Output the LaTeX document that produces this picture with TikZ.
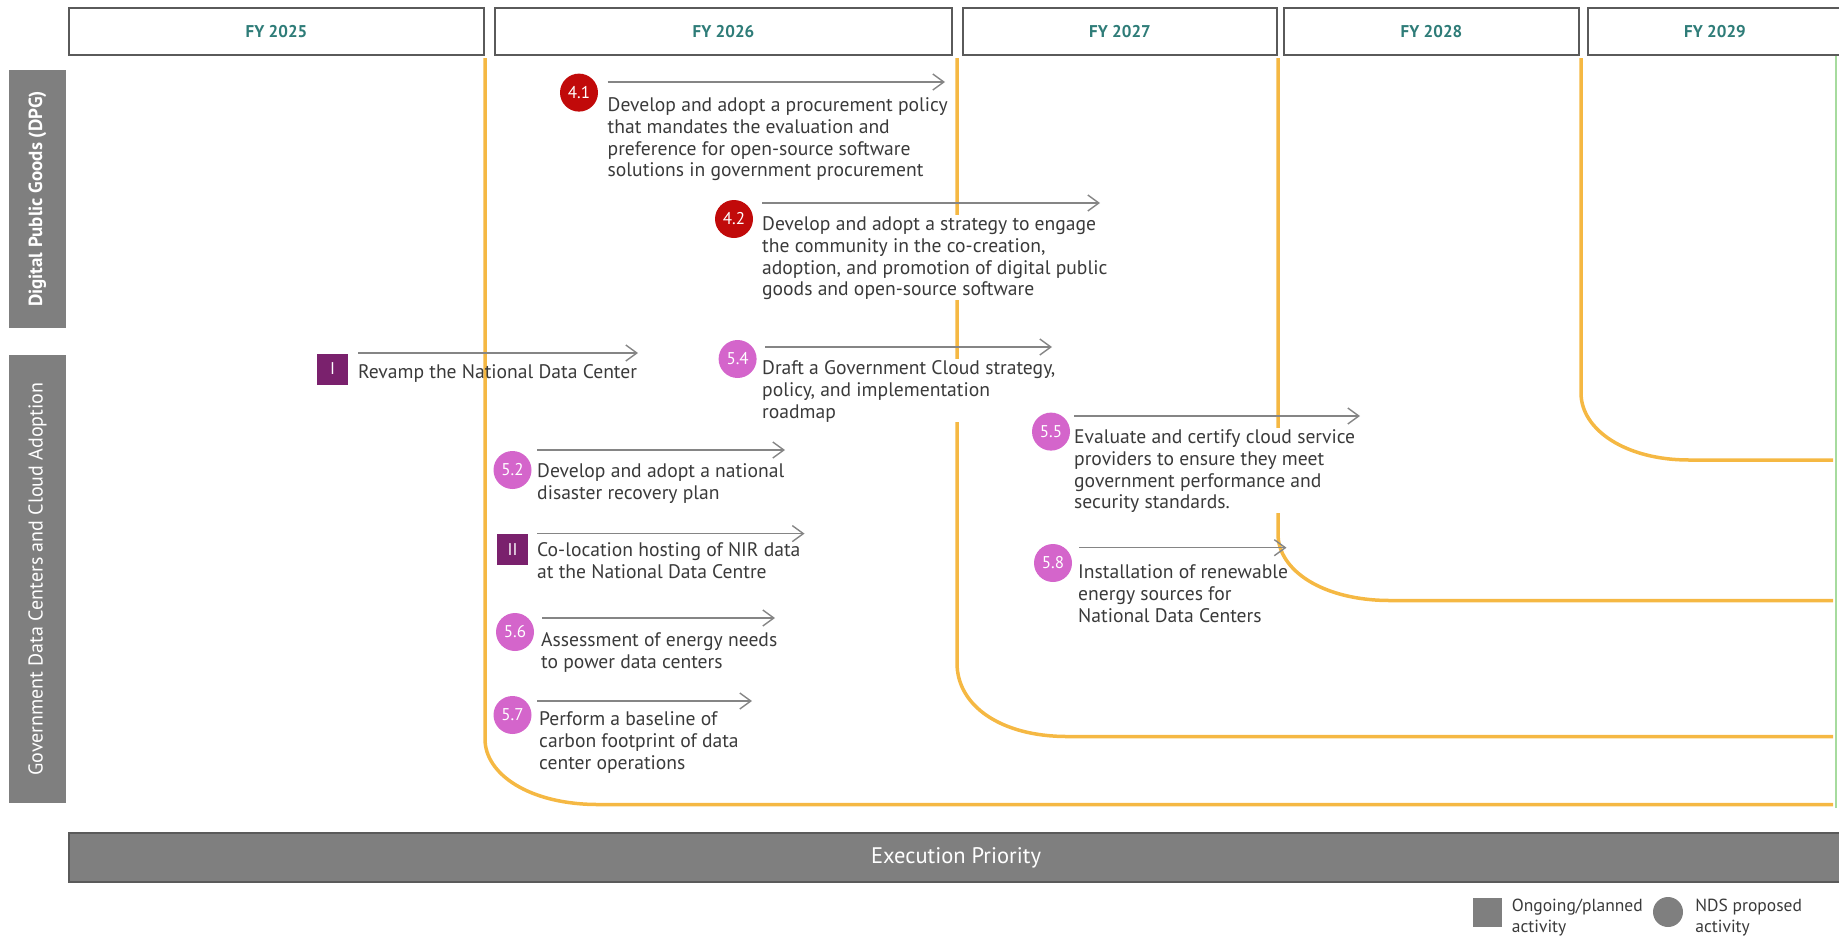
\documentclass[tikz,border=0pt]{standalone}
\usepackage{fontspec}
\setmainfont{PT Sans}
\usetikzlibrary{arrows.meta,positioning}

\definecolor{yearteal}{HTML}{2E7C78}
\definecolor{boxgray}{HTML}{5A5A5A}
\definecolor{lanegray}{HTML}{7F7F7F}
\definecolor{bodytext}{HTML}{3A3A3A}
\definecolor{arrowgray}{HTML}{858585}
\definecolor{priority}{HTML}{F5B843}
\definecolor{edgegreen}{HTML}{A6DB9E}
\definecolor{dpgred}{HTML}{C10A0A}
\definecolor{ndspink}{HTML}{D465CB}
\definecolor{ongoing}{HTML}{7A216D}

\tikzset{
  yearbox/.style={draw=boxgray, line width=2.2pt, fill=white, minimum height=47pt,
    text=yearteal, font=\fontsize{17}{20}\selectfont\bfseries},
  lanebox/.style={fill=lanegray, text=white, rotate=90, minimum height=57pt, inner sep=0pt,
    font=\fontsize{20}{22}\selectfont},
  prioline/.style={draw=priority, line width=3.5pt},
  tlarrow/.style={draw=arrowgray, line width=1.4pt, -{Straight Barb[length=11pt,width=16pt]}},
  ndsdot/.style={circle, fill=ndspink, minimum size=38pt, inner sep=0pt, text=white,
    font=\fontsize{17}{17}\selectfont},
  dpgdot/.style={ndsdot, fill=dpgred},
  ongoingsq/.style={fill=ongoing, minimum size=31pt, inner sep=0pt, text=white,
    font=\fontsize{17}{17}\selectfont},
  acttext/.style={anchor=north west, align=left, inner sep=0pt, text=bodytext,
    font=\fontsize{19.6}{21.8}\selectfont},
  masked/.style={acttext, fill=white},
  legendtext/.style={align=left, inner sep=0pt, text=bodytext, font=\fontsize{17.5}{21}\selectfont},
}

\begin{document}
\begin{tikzpicture}[x=1pt,y=-1pt]
\useasboundingbox (0,0) rectangle (1839,938);

% year headers
\foreach \yr/\cx/\w in {2025/276.5/415, 2026/723.5/457, 2027/1120/314, 2028/1431.5/295, 2029/1715/254}
  \node[yearbox, minimum width=\w] (fy\yr) at (\cx,31.5) {FY \yr};

% lanes
\node[lanebox, minimum width=258, font=\fontsize{19}{22}\selectfont\bfseries] (dpg) at (37.5,199) {Digital Public Goods (DPG)};
\node[lanebox, minimum width=448] (gdc) at (37.5,579) {Government Data Centers and Cloud Adoption};

% priority lines
\foreach \lx/\ly/\hx/\hy in {485/739/598/804.5, 957/663/1067/736.5, 1278/534/1390/600.5, 1581/393/1689/460}
  \draw[prioline] (\lx,58) -- (\lx,\ly) .. controls (\lx,\hy-30) and (\lx+45,\hy) .. (\hx,\hy) -- (1833,\hy);
\draw[edgegreen, line width=1.5pt] (1836,56) -- (1836,808);

% activities
\foreach \n/\mk/\lab/\mx/\my/\ax/\bx/\ay/\tx/\ty/\ts/\txt in {
  41/dpgdot/4.1/579/92.6/607.5/945/82/607.5/96/acttext/{Develop and adopt a procurement policy\\that mandates the evaluation and\\preference for open-source software\\solutions in government procurement},
  42/dpgdot/4.2/734/219/762/1100/203/762/215/masked/{Develop and adopt a strategy to engage\\the community in the co-creation,\\adoption, and promotion of digital public\\goods and open-source software},
  i1/ongoingsq/I/332.5/369/358/638/353/358/362.6/acttext/{Revamp the National Data Center},
  54/ndsdot/5.4/737.6/359/765/1052/347/762/359/masked/{Draft a Government Cloud strategy,\\policy, and implementation\\roadmap},
  55/ndsdot/5.5/1051/431.6/1074/1360/416/1074/428/masked/{Evaluate and certify cloud service\\providers to ensure they meet\\government performance and\\security standards.},
  52/ndsdot/5.2/512.5/470/537/785/450/537/462/acttext/{Develop and adopt a national\\disaster recovery plan},
  i2/ongoingsq/II/512.5/549.5/537/804.5/533.6/537/541/acttext/{Co-location hosting of NIR data\\at the National Data Centre},
  58/ndsdot/5.8/1053/563/1079/1286.5/547.7/1078/563/acttext/{Installation of renewable\\energy sources for\\National Data Centers},
  56/ndsdot/5.6/515/632/542/775/618/541/631/acttext/{Assessment of energy needs\\to power data centers},
  57/ndsdot/5.7/512.5/715/537/752/701/539/710/acttext/{Perform a baseline of\\carbon footprint of data\\center operations}}{
  \node[\ts] (t\n) at (\tx,\ty) {\strut\txt};
  \coordinate (s\n) at (\ax,\ay);
  \coordinate (e\n) at (\bx,\ay);
  \draw[tlarrow] (s\n) -- (e\n);
  \node[\mk] (m\n) at (\mx,\my) {\lab};
}

% execution bar and legend
\node[fill=lanegray, draw=boxgray, line width=2pt, minimum width=1774, minimum height=49,
  text=white, font=\fontsize{22.5}{25}\selectfont] (exec) at (956,857.5) {Execution Priority};
\node[fill=lanegray, minimum size=29pt, inner sep=0pt] (lgsq) at (1487,912) {};
\node[legendtext, right=10pt of lgsq, yshift=-6pt] (lgsqtxt) {Ongoing/planned\\activity};
\node[circle, fill=lanegray, minimum size=30pt, inner sep=0pt] (lgdot) at (1668,912) {};
\node[legendtext, right=12pt of lgdot, yshift=-6pt] (lgdottxt) {NDS proposed\\activity};
\end{tikzpicture}
\end{document}
